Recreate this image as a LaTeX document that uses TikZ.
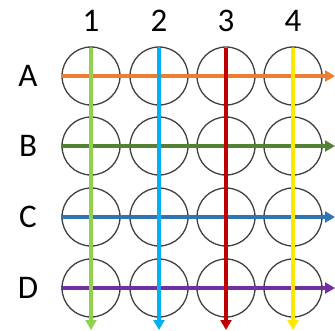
\documentclass[tikz,border=0pt]{standalone}
\usepackage{fontspec}
\setmainfont{Carlito}
\usetikzlibrary{arrows.meta}
\definecolor{cOrange}{HTML}{ED7D31}
\definecolor{cDGreen}{HTML}{548235}
\definecolor{cBlueC}{HTML}{2E75B6}
\definecolor{cPurple}{HTML}{7030A0}
\definecolor{cLGreen}{HTML}{92D050}
\definecolor{cSky}{HTML}{00B0F0}
\definecolor{cRed}{HTML}{C00000}
\definecolor{cYellow}{HTML}{FFE800}
\definecolor{cRing}{HTML}{404040}
\tikzset{
  well/.style={circle, draw=cRing, line width=1.3pt, minimum size=58pt, inner sep=0pt},
  lbl/.style={font=\fontsize{33}{36}\selectfont, inner sep=0pt, anchor=center},
  arr/.style={line width=3.5pt, -{Triangle[length=10pt,width=11pt]}}
}
\begin{document}
\begin{tikzpicture}[x=1pt,y=-1pt]
\useasboundingbox (0,0) rectangle (335,330);
% wells
\foreach \r/\y in {A/76,B/146,C/217,D/288}{
  \foreach \c/\x in {1/91,2/159,3/226,4/293}{
    \node[well] (w\r\c) at (\x,\y) {};
  }
}
% labels
\foreach \c/\x in {1/91,2/159,3/226,4/293}{
  \node[lbl] (n\c) at (\x,21) {\c};
}
\foreach \r/\y in {A/76,B/146,C/217,D/288}{
  \node[lbl] (l\r) at (28,\y) {\r};
}
% end coordinates
\foreach \r/\y in {A/76,B/146,C/217,D/288}{
  \coordinate (e\r) at (335,\y);
}
\foreach \c/\x in {1/91,2/159,3/226,4/293}{
  \coordinate (e\c) at (\x,330);
}
% horizontal arrows
\draw[arr, cOrange] (wA1.west) -- (eA);
\draw[arr, cDGreen] (wB1.west) -- (eB);
\draw[arr, cBlueC] (wC1.west) -- (eC);
\draw[arr, cPurple] (wD1.west) -- (eD);
% vertical arrows
\draw[arr, cLGreen] ([yshift=-2pt]wA1.north) -- (e1);
\draw[arr, cSky] ([yshift=-2pt]wA2.north) -- (e2);
\draw[arr, cRed] ([yshift=-2pt]wA3.north) -- (e3);
\draw[arr, cYellow] ([yshift=-2pt]wA4.north) -- (e4);
\end{tikzpicture}
\end{document}
